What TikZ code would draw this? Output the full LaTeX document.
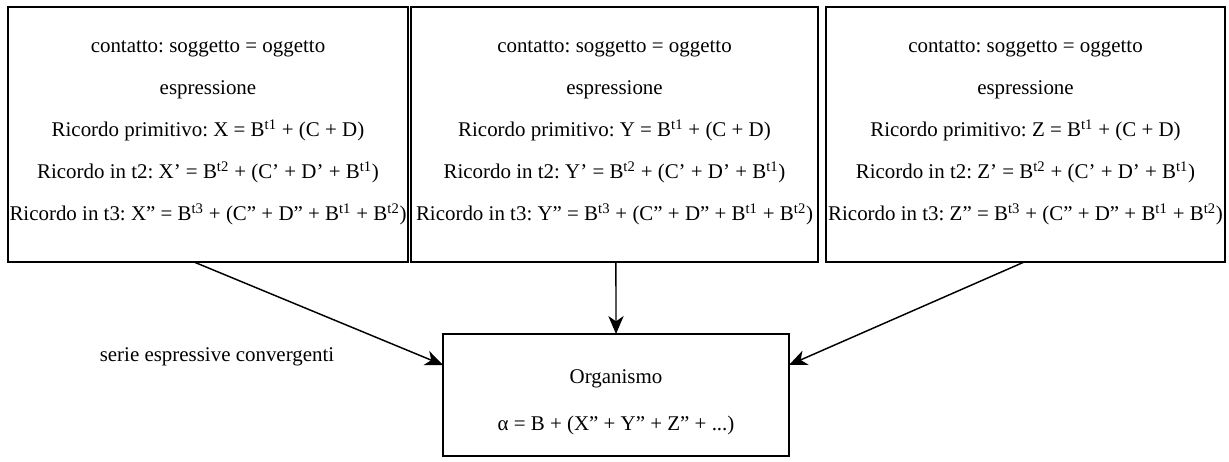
\documentclass[tikz,border=0pt]{standalone}
\usepackage{fontspec}
\setmainfont{Liberation Serif}
\usetikzlibrary{arrows.meta,positioning,calc}
\frenchspacing
\tikzset{
  x=0.75pt,y=-0.75pt,
  box/.style={draw=black,line width=1.3pt,inner sep=0pt,outer sep=0pt,fill=white},
  txt/.style={align=center,inner sep=0pt,font=\frenchspacing\fontsize{15.7}{31.5}\selectfont},
  orgtxt/.style={align=center,inner sep=0pt,font=\frenchspacing\fontsize{15.7}{35.25}\selectfont},
  arr/.style={draw=black,line width=1.1pt,-{Stealth[length=13.5pt,width=11.5pt,inset=4pt]}},
}
\newcommand{\su}[1]{\textsuperscript{#1}}
\begin{document}
\begin{tikzpicture}
\useasboundingbox[fill=white] (0,0) rectangle (1229,461);
\node[box,minimum width=300pt,minimum height=191.25pt] (b1) at (208,134.5) {};
\node[box,minimum width=305.25pt,minimum height=191.25pt] (b2) at (614.5,134.5) {};
\node[box,minimum width=299.25pt,minimum height=191.25pt] (b3) at (1025.5,134.5) {};
\node[box,minimum width=259.5pt,minimum height=91.5pt] (org) at (616,395) {};

\node[txt] (t1) at (208,132.5) {contatto: soggetto = oggetto\\espressione\\Ricordo primitivo: X = B\su{t1} + (C + D)\\Ricordo in t2: X’ = B\su{t2} + (C’ + D’ + B\su{t1})\\Ricordo in t3: X” = B\su{t3} + (C” + D” + B\su{t1} + B\su{t2})};
\node[txt] (t2) at (614.5,132.5) {contatto: soggetto = oggetto\\espressione\\Ricordo primitivo: Y = B\su{t1} + (C + D)\\Ricordo in t2: Y’ = B\su{t2} + (C’ + D’ + B\su{t1})\\Ricordo in t3: Y” = B\su{t3} + (C” + D” + B\su{t1} + B\su{t2})};
\node[txt] (t3) at (1025.5,132.5) {contatto: soggetto = oggetto\\espressione\\Ricordo primitivo: Z = B\su{t1} + (C + D)\\Ricordo in t2: Z’ = B\su{t2} + (C’ + D’ + B\su{t1})\\Ricordo in t3: Z” = B\su{t3} + (C” + D” + B\su{t1} + B\su{t2})};
\node[orgtxt] (ot) at (616,402.5) {Organismo\\α = B + (X” + Y” + Z” + ...)};
\node[txt] (lab) at (217,357) {serie espressive convergenti};

\draw[arr] ([xshift=-10.5pt]b1.south) -- ([yshift=22.5pt]org.west);
\draw[arr] ([xshift=1.1pt]b2.south) -- (org.north);
\draw[arr] ([xshift=-1pt]b3.south) -- ([yshift=22.5pt]org.east);
\end{tikzpicture}
\end{document}
